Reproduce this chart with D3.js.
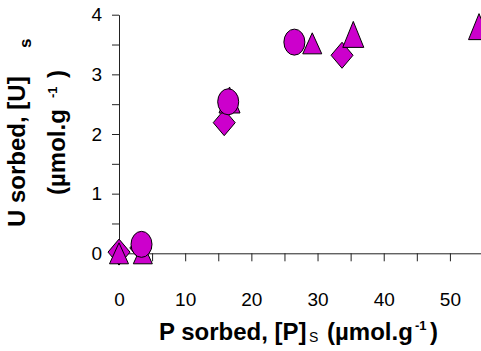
<!DOCTYPE html>
<html>
<head>
<meta charset="utf-8">
<script src="https://cdn.jsdelivr.net/npm/d3@7"></script>
<style>
  html, body { margin: 0; padding: 0; background: #fff; }
  svg { display: block; }
  text { font-family: "Liberation Sans", Arial, sans-serif; }
</style>
</head>
<body>
<svg id="chart" width="481" height="351"></svg>
<script>
// Sorption data: U sorbed vs P sorbed, one array per marker series
const diamondPts = [
  { x: 0.0,  y: 0.02 },
  { x: 3.3,  y: 0.09 },
  { x: 15.9, y: 2.19 },
  { x: 33.7, y: 3.32 }
];
const smallTrianglePts = [
  { x: 0.0,  y: 0.0 },
  { x: 3.6,  y: 0.0 },
  { x: 29.2, y: 3.52 }
];
const largeTrianglePts = [
  { x: 16.7, y: 2.57 },
  { x: 35.4, y: 3.67 },
  { x: 54.4, y: 3.80 }
];
const circlePts = [
  { x: 3.4,  y: 0.15 },
  { x: 16.5, y: 2.54 },
  { x: 26.5, y: 3.54 }
];

const xTickValues = d3.range(0, 56, 5);
const xTickLabels = [0, 10, 20, 30, 40, 50];
const yTickValues = d3.range(0, 4.01, 0.5);
const yTickLabels = [0, 1, 2, 3, 4];

const svg = d3.select("#chart");
const x = d3.scaleLinear().domain([0, 55]).range([119, 483]);
const y = d3.scaleLinear().domain([0, 4]).range([253.3, 14.7]);

// Axes
const xAxis = d3.axisBottom(x)
  .tickValues(xTickValues)
  .tickSize(8)
  .tickSizeOuter(0)
  .tickPadding(31)
  .tickFormat(d => xTickLabels.includes(d) ? d : "");
const yAxis = d3.axisLeft(y)
  .tickValues(yTickValues)
  .tickSize(7)
  .tickSizeOuter(0)
  .tickPadding(10)
  .tickFormat(d => yTickLabels.includes(d) ? d : "");

const gx = svg.append("g").attr("transform", `translate(0,${y(0)})`).call(xAxis);
const gy = svg.append("g").attr("transform", `translate(${x(0)},0)`).call(yAxis);
[gx, gy].forEach(g => {
  g.selectAll("path, line").attr("stroke", "#222").attr("stroke-width", 1);
  g.selectAll("text").attr("font-size", 19).attr("fill", "#000")
    .attr("font-family", "'Liberation Sans', Arial, sans-serif");
});

// Marker shapes of given width/height, centred on 0,0
function shape(type, w, h) {
  const a = w / 2, b = h / 2;
  if (type === "diamond") return `M0,${-b}L${a},0L0,${b}L${-a},0Z`;
  if (type === "triangle") return `M0,${-b}L${a},${b}L${-a},${b}Z`;
  return `M${-a},0A${a},${b} 0 1,0 ${a},0A${a},${b} 0 1,0 ${-a},0Z`;
}

const series = [
  { pts: diamondPts, type: "diamond", w: 22, h: 26 },
  { pts: smallTrianglePts, type: "triangle", w: 19, h: 21 },
  { pts: largeTrianglePts, type: "triangle", w: 21, h: 26 },
  { pts: circlePts, type: "circle", w: 21, h: 26 }
];

series.forEach(s => {
  svg.append("g").selectAll("path")
    .data(s.pts)
    .join("path")
    .attr("d", shape(s.type, s.w, s.h))
    .attr("transform", d => `translate(${x(d.x)},${y(d.y)})`)
    .attr("fill", "#CC00CC")
    .attr("stroke", "#000")
    .attr("stroke-width", 1);
});

// Title pieces placed along the line at a given position, size and weight
function titlePiece(parent, t, px, py, size, weight) {
  return parent.append("text")
    .attr("x", px).attr("y", py)
    .attr("font-size", size)
    .attr("font-weight", weight)
    .attr("fill", "#000")
    .text(t);
}

// X-axis title
const xt = svg.append("g");
titlePiece(xt, "P sorbed, [P]", 159, 340, 24, "bold");
titlePiece(xt, "S", 309, 342, 14, "normal");
titlePiece(xt, "(µmol.g", 327, 340, 24, "bold");
titlePiece(xt, "-1", 415, 330, 13, "bold");
titlePiece(xt, ")", 430, 340, 24, "bold");

// Y-axis title, two rotated lines
const yt = svg.append("g").attr("transform", "translate(25,133) rotate(-90)");
titlePiece(yt, "U sorbed, [U]", -94, 0, 24, "bold");
titlePiece(yt, "s", 85, 6, 17, "bold");
titlePiece(yt, "(µmol.g", -62, 40, 24, "bold");
titlePiece(yt, "-1", 35, 32, 13, "bold");
titlePiece(yt, ")", 55, 40, 24, "bold");
</script>
</body>
</html>
